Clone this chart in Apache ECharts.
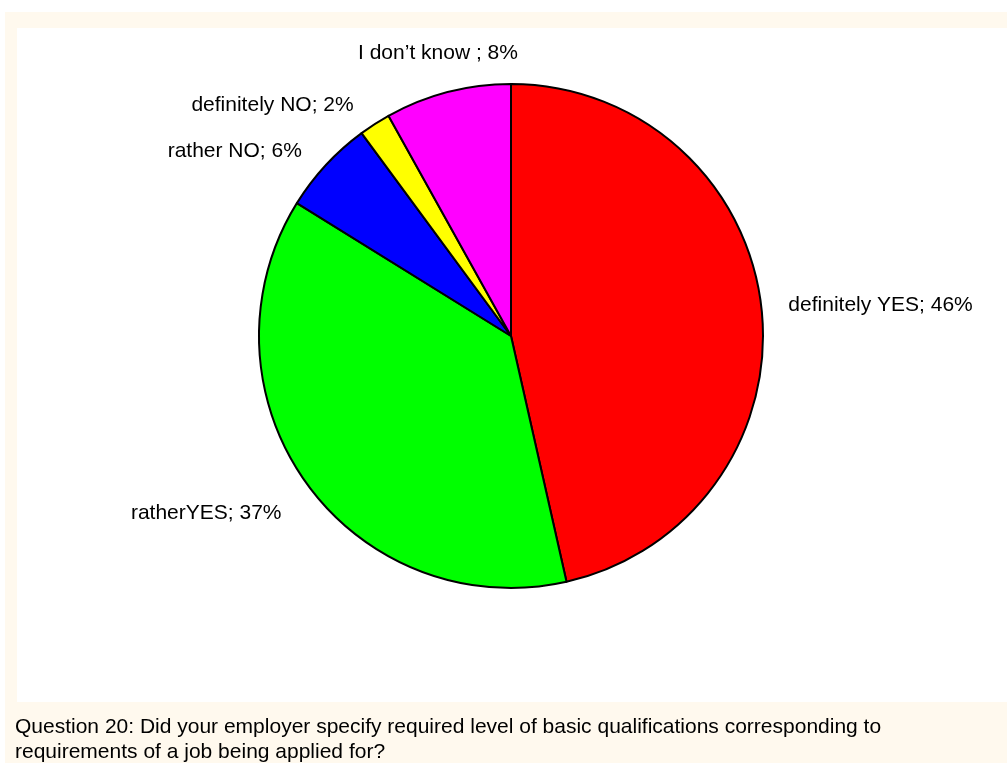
<!DOCTYPE html>
<html>
<head>
<meta charset="utf-8">
<title>Question 20</title>
<script src="https://cdn.jsdelivr.net/npm/echarts@6/dist/echarts.min.js"></script>
<style>
  html, body { margin: 0; padding: 0; background: #ffffff; }
  #chart { width: 1007px; height: 763px; }
</style>
</head>
<body>
<div id="chart"></div>
<script>
// Answer categories, in clockwise order starting from 12 o'clock
const answers = ['definitely YES', 'ratherYES', 'rather NO', 'definitely NO', 'I don\u2019t know '];
// Share of respondents, in percent
const shares = [46, 37, 6, 2, 8];
// Slice fill colours
const sliceColors = ['#ff0000', '#00ff00', '#0000ff', '#ffff00', '#ff00ff'];

const caption = 'Question 20: Did your employer specify required level of basic qualifications corresponding to\nrequirements of a job being applied for?';

// Small per-label shifts so the labels sit where the report puts them
const labelNudge = [[-3, -1], [3, 22], [2, -4], [2, -6], [89, -24]];

const FONT = '"Liberation Sans", Arial, sans-serif';
const CREAM = '#fff9ee';

const chart = echarts.init(document.getElementById('chart'), null, { renderer: 'canvas' });

chart.setOption({
  animation: false,
  backgroundColor: '#ffffff',
  graphic: [
    { type: 'rect', z: 0, silent: true, shape: { x: 5, y: 12, width: 1002, height: 751 }, style: { fill: CREAM } },
    { type: 'rect', z: 0, silent: true, shape: { x: 17, y: 28, width: 990, height: 674 }, style: { fill: '#ffffff' } }
  ],
  title: {
    text: caption,
    left: 10,
    top: 710,
    padding: 5,
    textStyle: { fontFamily: FONT, fontSize: 21, fontWeight: 'normal', color: '#000', lineHeight: 25 }
  },
  series: [{
    type: 'pie',
    center: [511, 336],
    radius: 252,
    startAngle: 90,
    clockwise: true,
    avoidLabelOverlap: false,
    itemStyle: { borderColor: '#000', borderWidth: 2 },
    emphasis: { disabled: true },
    label: {
      show: true,
      position: 'outside',
      fontFamily: FONT,
      fontSize: 21,
      color: '#000',
      distanceToLabelLine: 5,
      formatter: p => p.name + '; ' + p.value + '%'
    },
    labelLine: { show: false, length: 15, length2: 10 },
    labelLayout: p => ({ dx: labelNudge[p.dataIndex][0], dy: labelNudge[p.dataIndex][1] }),
    data: answers.map((name, i) => ({ name, value: shares[i], itemStyle: { color: sliceColors[i] } }))
  }]
});
</script>
</body>
</html>
